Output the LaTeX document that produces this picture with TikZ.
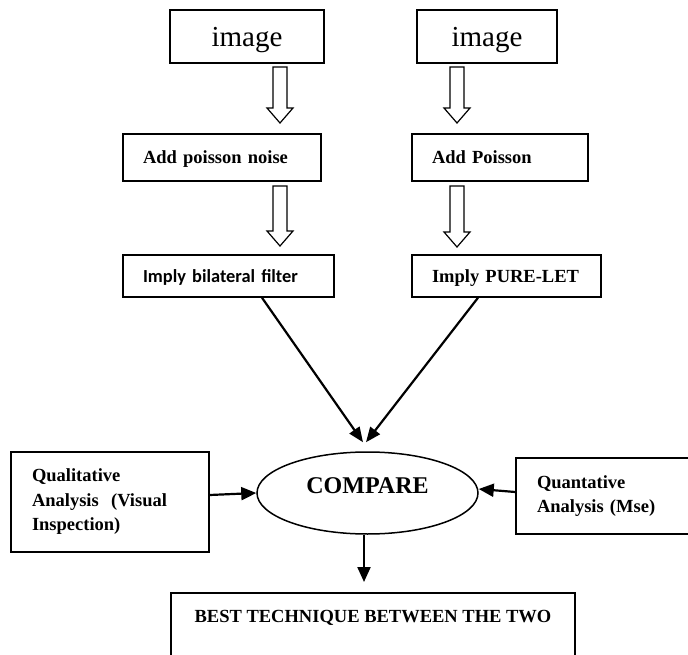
\documentclass[tikz,border=0pt]{standalone}
\usepackage{fontspec}
\setmainfont{Liberation Serif}
\newfontfamily\calibrifont{Carlito}
\usetikzlibrary{arrows.meta,shapes.geometric,calc}
\newcommand\hollowdown[4]{%
  \draw[hollow] ({#1-7},#2) -- ({#1+7},#2) -- ({#1+7},#3) -- ({#1+13},#3)
    -- (#1,#4) -- ({#1-13},#3) -- ({#1-7},#3) -- cycle;}
\begin{document}
\begin{tikzpicture}[x=1pt,y=-1pt,
  box/.style={draw, line width=1.5pt, rectangle, inner sep=0pt},
  lbox/.style={box, align=left, inner xsep=20pt,
    font=\fontsize{18.5}{24.5}\selectfont\bfseries},
  imgbox/.style={box, minimum height=53pt, text depth=0pt,
    font=\fontsize{29}{34}\selectfont},
  hollow/.style={draw, line width=1.2pt, fill=white, line join=miter},
  conn/.style={line width=2.2pt, -{Triangle[length=15pt,width=13pt]}},
  dconn/.style={line width=2.2pt, -{Triangle[length=15pt,width=12pt]}}
]
\clip (0,0) rectangle (688,655);
\fill[white] (0,0) rectangle (688,655);

% top image boxes
\node[imgbox, minimum width=154pt] (img1) at (247,36.5) {image};
\node[imgbox, minimum width=140pt] (img2) at (487,36.5) {image};

% add noise boxes
\node[lbox, text width=158pt, minimum height=47pt, text depth=0pt] (add1) at (222,157.5) {Add poisson noise};
\node[lbox, text width=136pt, minimum height=47pt, text depth=0pt] (add2) at (500,157.5) {Add Poisson};

% filter boxes
\node[lbox, text width=171pt, minimum height=42pt, text depth=0pt,
  font=\fontsize{18.4}{22}\selectfont\calibrifont\bfseries] (imp1) at (228.5,276) {Imply bilateral filter};
\node[lbox, text width=149pt, minimum height=42pt, text depth=0pt] (imp2) at (506.5,276) {Imply PURE-LET};

% compare ellipse
\node[draw, ellipse, line width=1.5pt, inner sep=0pt, minimum width=221pt, minimum height=82pt,
  text depth=14.5pt, font=\fontsize{24}{28}\selectfont\bfseries] (cmp) at (367.5,493) {COMPARE};

% side boxes
\node[lbox, inner xsep=21pt, text width=156pt, minimum height=100pt] (qual) at (110,502)
  {Qualitative\\Analysis\ \ (Visual\\Inspection)};
\node[lbox, inner xsep=21pt, text width=142pt, minimum height=76pt] (quan) at (608,496)
  {Quantative\\Analysis (Mse)};

% result box
\node[box, anchor=north, minimum width=404pt, align=center, inner ysep=0pt,
  text height=29.5pt, text depth=59pt, font=\fontsize{18.5}{22}\selectfont\bfseries] (best) at (373,592)
  {BEST TECHNIQUE BETWEEN THE TWO};

% hollow arrows
\hollowdown{280}{67}{108}{123}
\hollowdown{457}{67}{108}{123}
\hollowdown{280}{186}{231}{246}
\hollowdown{457}{186}{232}{247}

% connectors
\coordinate (tipL) at ([xshift=-4.5pt,yshift=9pt]cmp.north);
\coordinate (tipR) at ([xshift=-1.5pt,yshift=9pt]cmp.north);
\draw[dconn] ([xshift=33.5pt]imp1.south) -- (tipL);
\draw[dconn] ([xshift=-28.5pt]imp2.south) -- (tipR);
\draw[conn] ([yshift=7pt]qual.east) -- (cmp.west);
\draw[conn] ([yshift=4pt]quan.west) -- ([yshift=4pt]cmp.east);
\coordinate (bestin) at ([xshift=-9pt,yshift=10pt]best.north);
\draw[conn] ([xshift=-3.5pt]cmp.south) -- (bestin);
\end{tikzpicture}
\end{document}
